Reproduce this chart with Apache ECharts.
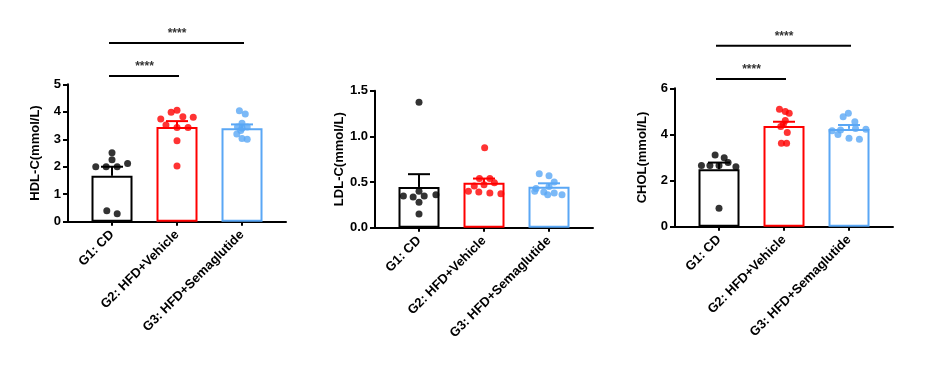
<!DOCTYPE html>
<html><head><meta charset="utf-8">
<script src="https://cdn.jsdelivr.net/npm/echarts@6/dist/echarts.min.js"></script>
<style>html,body{margin:0;padding:0;background:#fff}#c{width:926px;height:365px}</style>
</head><body><div id="c"></div>
<script>
// ---- data ----
const categories = ['G1: CD', 'G2: HFD+Vehicle', 'G3: HFD+Semaglutide'];
const groupColors = ['#000000', '#ff0000', '#5aa7f5'];

const hdlTicks = [0, 1, 2, 3, 4, 5];
const hdlMean = [1.67, 3.45, 3.40];
const hdlSem = [0.33, 0.21, 0.14];
const hdlG1 = [2.51, 2.25, 2.0, 2.0, 2.0, 2.12, 0.40, 0.29];
const hdlG2 = [4.06, 3.98, 3.82, 3.74, 3.80, 3.52, 3.43, 3.43, 2.95, 2.03];
const hdlG3 = [4.04, 3.92, 3.58, 3.45, 3.45, 3.40, 3.32, 3.19, 3.03, 3.0];
const hdlJ1 = [0, 0, -0.25, -0.09, 0.08, 0.24, -0.08, 0.08];
const hdlJ2 = [0, -0.09, 0.09, -0.25, 0.25, -0.17, 0, 0.17, 0, 0];
const hdlJ3 = [-0.04, 0.05, 0, -0.07, 0.08, 0, -0.02, -0.08, 0, 0.08];
const hdlSig = [[1, 2, 5.3], [1, 3, 6.5]];

const ldlTicks = [0, 0.5, 1.0, 1.5];
const ldlMean = [0.446, 0.493, 0.449];
const ldlSem = [0.14, 0.045, 0.037];
const ldlG1 = [1.373, 0.40, 0.347, 0.336, 0.347, 0.36, 0.278, 0.15];
const ldlG2 = [0.876, 0.54, 0.54, 0.457, 0.47, 0.493, 0.40, 0.39, 0.38, 0.372];
const ldlG3 = [0.59, 0.57, 0.50, 0.45, 0.43, 0.40, 0.39, 0.38, 0.36, 0.36];
const ldlJ1 = [0, 0, -0.24, -0.09, 0.08, 0.26, 0, 0];
const ldlJ2 = [0.01, -0.07, 0.09, -0.15, 0, 0.16, -0.24, -0.08, 0.09, 0.26];
const ldlJ3 = [-0.15, 0.0, 0.08, 0.0, -0.2, -0.22, -0.08, 0.08, 0.2, -0.02];
const ldlSig = [];

const cholTicks = [0, 2, 4, 6];
const cholMean = [2.49, 4.37, 4.24];
const cholSem = [0.29, 0.18, 0.17];
const cholG1 = [3.11, 2.99, 2.78, 2.65, 2.65, 2.65, 2.6, 0.80];
const cholG2 = [5.09, 4.99, 4.92, 4.6, 4.44, 4.34, 4.08, 3.62, 3.62];
const cholG3 = [4.92, 4.77, 4.55, 4.26, 4.22, 4.19, 4.16, 4.0, 3.83, 3.79];
const cholJ1 = [-0.06, 0.08, 0.14, -0.27, -0.14, 0, 0.26, 0];
const cholJ2 = [-0.07, 0.02, 0.08, 0.02, -0.01, -0.05, 0.05, -0.04, 0.04];
const cholJ3 = [-0.01, -0.09, 0.09, 0.1, 0.26, -0.13, -0.26, -0.17, 0, 0.16];
const cholSig = [[1, 2, 6.4], [1, 3, 7.85]];

// ---- layout ----
const FONT = 'Liberation Sans, Arial, sans-serif';
const panels = [
  { name: 'HDL-C(mmol/L)', left: 68, top: 84.3, height: 137.4, ticks: hdlTicks, dec: 0,
    mean: hdlMean, sem: hdlSem, pts: [hdlG1, hdlG2, hdlG3], jit: [hdlJ1, hdlJ2, hdlJ3], sig: hdlSig },
  { name: 'LDL-C(mmol/L)', left: 375, top: 90.7, height: 137, ticks: ldlTicks, dec: 1,
    mean: ldlMean, sem: ldlSem, pts: [ldlG1, ldlG2, ldlG3], jit: [ldlJ1, ldlJ2, ldlJ3], sig: ldlSig },
  { name: 'CHOL(mmol/L)', left: 675, top: 88.3, height: 138.4, ticks: cholTicks, dec: 0,
    mean: cholMean, sem: cholSem, pts: [cholG1, cholG2, cholG3], jit: [cholJ1, cholJ2, cholJ3], sig: cholSig }
];
const XMIN = 0.323, XMAX = 3.677, PXU = 65;

const grid = [], xAxis = [], yAxis = [], series = [];
panels.forEach((p, k) => {
  grid.push({ left: p.left, top: p.top, width: (XMAX - XMIN) * PXU, height: p.height, containLabel: false });
  xAxis.push({
    type: 'value', gridIndex: k, min: XMIN, max: XMAX,
    splitLine: { show: false },
    axisLine: { show: true, lineStyle: { color: '#000', width: 2 } },
    axisTick: { show: true, customValues: [1, 2, 3], length: 4, lineStyle: { color: '#000', width: 2 } },
    axisLabel: {
      customValues: [1, 2, 3], rotate: 45, margin: 11,
      formatter: v => categories[Math.round(v) - 1],
      fontFamily: FONT, fontWeight: 'bold', fontSize: 13, color: '#000'
    }
  });
  const tmax = p.ticks[p.ticks.length - 1];
  yAxis.push({
    type: 'value', gridIndex: k, min: p.ticks[0], max: tmax, interval: p.ticks[1] - p.ticks[0],
    name: p.name, nameLocation: 'middle', nameGap: 26,
    nameTextStyle: { fontFamily: FONT, fontWeight: 'bold', fontSize: 13, color: '#000' },
    splitLine: { show: false },
    axisLine: { show: true, lineStyle: { color: '#000', width: 2 } },
    axisTick: { show: true, length: 5, lineStyle: { color: '#000', width: 2 } },
    axisLabel: { formatter: v => v.toFixed(p.dec), margin: 7,
      fontFamily: FONT, fontWeight: 'bold', fontSize: 13, color: '#000' }
  });
  // bars
  series.push({
    type: 'bar', xAxisIndex: k, yAxisIndex: k, barWidth: 41, z: 2,
    data: p.mean.map((m, i) => ({ value: [i + 1, m],
      itemStyle: { color: 'rgba(255,255,255,0)', borderColor: groupColors[i], borderWidth: 2 } }))
  });
  // error bars
  series.push({
    type: 'custom', xAxisIndex: k, yAxisIndex: k, z: 3,
    encode: { x: 0, y: 1 },
    data: p.mean.map((m, i) => [i + 1, m, p.sem[i]]),
    renderItem: (params, api) => {
      const x = api.value(0), m = api.value(1), s = api.value(2);
      const b = api.coord([x, m]), t = api.coord([x, m + s]);
      const c = groupColors[params.dataIndex];
      return { type: 'group', children: [
        { type: 'line', shape: { x1: b[0], y1: b[1], x2: t[0], y2: t[1] }, style: { stroke: c, lineWidth: 2 } },
        { type: 'line', shape: { x1: t[0] - 11, y1: t[1], x2: t[0] + 11, y2: t[1] }, style: { stroke: c, lineWidth: 2 } }
      ] };
    }
  });
  // dots
  p.pts.forEach((arr, g) => {
    series.push({
      type: 'scatter', xAxisIndex: k, yAxisIndex: k, z: 4, symbolSize: 7,
      itemStyle: { color: groupColors[g] },
      data: arr.map((v, i) => [g + 1 + p.jit[g][i], v])
    });
  });
  // significance
  if (p.sig.length) {
    series.push({
      type: 'custom', xAxisIndex: k, yAxisIndex: k, z: 5, clip: false,
      encode: { x: [0, 1], y: 2 },
      data: p.sig,
      renderItem: (params, api) => {
        const a = api.coord([api.value(0), api.value(2)]);
        const b = api.coord([api.value(1), api.value(2)]);
        return { type: 'group', children: [
          { type: 'line', shape: { x1: a[0] - 3, y1: a[1], x2: b[0] + 2, y2: b[1] }, style: { stroke: '#000', lineWidth: 2 } },
          { type: 'text', style: { text: '****', x: (a[0] + b[0]) / 2, y: a[1] - 3,
            align: 'center', verticalAlign: 'bottom', font: 'bold 12px ' + FONT, fill: '#333' } }
        ] };
      }
    });
  }
});

const chart = echarts.init(document.getElementById('c'), null, { renderer: 'canvas' });
chart.setOption({ animation: false, backgroundColor: '#fff', grid, xAxis, yAxis, series });
</script>
</body></html>
